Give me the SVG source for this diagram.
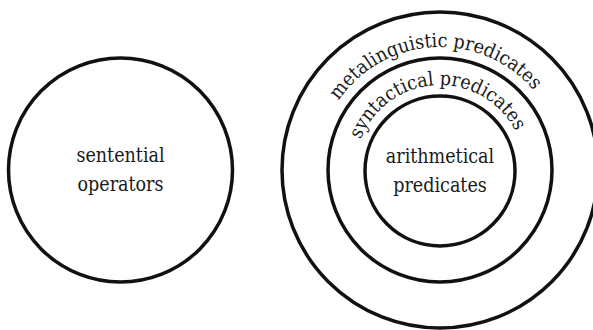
<svg xmlns="http://www.w3.org/2000/svg" xmlns:xlink="http://www.w3.org/1999/xlink" width="593" height="330" viewBox="0 0 593 330">
<style>
.ring{fill:none;stroke:#111;stroke-width:3.5}
.c{text-anchor:middle}
</style>
<defs>
<path id="arcMeta" d="M 317 170 A 123 123 0 0 1 563 170"/>
<path id="arcSyn" d="M 355 170 A 85 85 0 0 1 525 170"/>
</defs>
<rect width="593" height="330" fill="#fff"/>
<g font-family="'DejaVu Serif', serif" font-stretch="condensed" font-size="19.5" fill="#1a1a1a">
<g id="sentential-operators">
<circle class="ring" cx="120.5" cy="170" r="112"/>
<text class="c" x="120.5" y="162">sentential</text>
<text class="c" x="120.5" y="191">operators</text>
</g>
<g id="metalinguistic-predicates">
<circle class="ring" cx="440" cy="170" r="158"/>
<text transform="rotate(-3 440 170)"><textPath xlink:href="#arcMeta" startOffset="50%" text-anchor="middle">metalinguistic predicates</textPath></text>
</g>
<g id="syntactical-predicates">
<circle class="ring" cx="440" cy="170" r="112"/>
<text transform="rotate(-3 440 170)"><textPath xlink:href="#arcSyn" startOffset="50%" text-anchor="middle">syntactical predicates</textPath></text>
</g>
<g id="arithmetical-predicates">
<circle class="ring" cx="440" cy="171" r="75"/>
<text class="c" x="440" y="163">arithmetical</text>
<text class="c" x="440" y="192">predicates</text>
</g>
</g>
<g id="connectors"></g>
</svg>
